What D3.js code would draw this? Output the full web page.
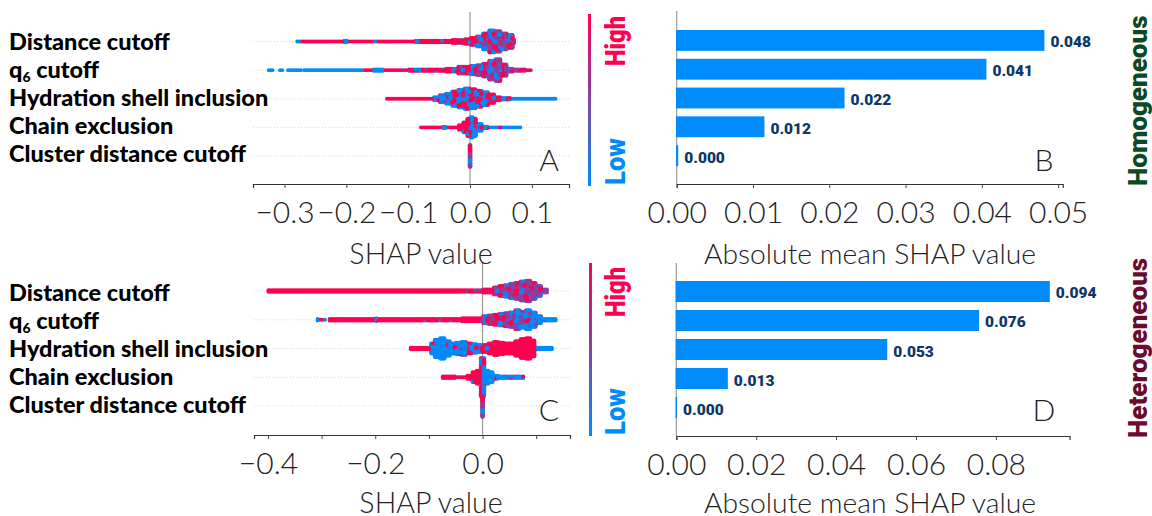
<!DOCTYPE html>
<html>
<head>
<meta charset="utf-8">
<script src="https://cdnjs.cloudflare.com/ajax/libs/d3/7.8.5/d3.min.js"></script>
<style>
body { margin: 0; background: #fff; }
svg { display: block; }
text { font-family: Lato, sans-serif; }
</style>
</head>
<body>
<svg width="1152" height="516"></svg>
<script>
/*--- data ---*/
var features = ["Distance cutoff", "q6 cutoff", "Hydration shell inclusion", "Chain exclusion", "Cluster distance cutoff"];

// mean absolute SHAP
var meanHomogeneous = [0.0482, 0.0406, 0.0220, 0.0115, 0.0002];
var meanHeterogeneous = [0.0935, 0.0758, 0.0528, 0.0129, 0.0002];
var labelsHomogeneous = ["0.048", "0.041", "0.022", "0.012", "0.000"];
var labelsHeterogeneous = ["0.094", "0.076", "0.053", "0.013", "0.000"];

// swarm histograms: [from, to, points, share high, share low]
var homDistance = [[-0.281,-0.275,3,0,1],[-0.275,-0.205,35,1,0],[-0.205,-0.198,4,0,1],[-0.198,-0.158,20,1,0],[-0.158,-0.152,3,0.3,0.7],[-0.152,-0.09,32,1,0],[-0.09,-0.083,4,0,1],[-0.083,-0.05,20,0.95,0.05],[-0.05,-0.04,7,0.85,0.15],[-0.04,-0.03,7,0.8,0.2],[-0.03,-0.02,9,0.85,0.15],[-0.02,-0.01,11,0.85,0.1],[-0.01,0,13,0.8,0.15],[0,0.01,17,0.65,0.2],[0.01,0.02,23,0.45,0.3],[0.02,0.03,35,0.35,0.35],[0.03,0.04,47,0.3,0.35],[0.04,0.05,43,0.3,0.3],[0.05,0.06,33,0.3,0.25],[0.06,0.07,27,0.25,0.15],[0.07,0.073,3,0.6,0]];
var homQ6 = [[-0.327,-0.318,4,0,1],[-0.309,-0.302,3,0,1],[-0.296,-0.272,12,0,1],[-0.27,-0.173,50,0,1],[-0.173,-0.157,8,1,0],[-0.157,-0.14,9,0,1],[-0.14,-0.1,20,0.85,0.1],[-0.1,-0.06,24,0.75,0.2],[-0.06,-0.04,15,0.7,0.25],[-0.04,-0.03,9,0.7,0.25],[-0.03,-0.02,11,0.65,0.25],[-0.02,-0.01,15,0.6,0.25],[-0.01,0,17,0.55,0.25],[0,0.01,19,0.5,0.25],[0.01,0.02,23,0.45,0.25],[0.02,0.03,27,0.35,0.3],[0.03,0.04,39,0.3,0.3],[0.04,0.05,47,0.2,0.25],[0.05,0.06,25,0.2,0.15],[0.06,0.07,11,0.3,0.05],[0.07,0.08,8,0.4,0],[0.08,0.09,7,0.4,0],[0.09,0.1,5,0.4,0]];
var homHydration = [[-0.136,-0.065,36,1,0],[-0.065,-0.06,3,0.4,0.6],[-0.06,-0.05,11,0.3,0.7],[-0.05,-0.04,15,0.35,0.65],[-0.04,-0.03,23,0.3,0.7],[-0.03,-0.02,31,0.35,0.65],[-0.02,-0.01,37,0.4,0.6],[-0.01,0,43,0.45,0.55],[0,0.01,41,0.5,0.5],[0.01,0.02,35,0.55,0.45],[0.02,0.03,27,0.6,0.4],[0.03,0.04,19,0.7,0.3],[0.04,0.05,11,0.85,0.15],[0.05,0.06,7,0.6,0.4],[0.06,0.066,4,0.8,0.2],[0.066,0.14,37,0,1]];
var homChain = [[-0.081,-0.045,18,1,0],[-0.045,-0.038,4,0,1],[-0.038,-0.02,10,1,0],[-0.02,-0.012,8,0.95,0.05],[-0.012,-0.005,14,0.95,0.05],[-0.005,0,24,0.85,0.15],[0,0.005,28,0.3,0.7],[0.005,0.01,24,0.2,0.8],[0.01,0.02,17,0.15,0.85],[0.02,0.03,8,0.1,0.9],[0.03,0.045,8,0,1],[0.045,0.05,3,1,0],[0.05,0.083,17,0,1]];
var homCluster = [[-0.001,0.001,15,0.35,0.25]];

var hetDistance = [[-0.401,-0.25,76,1,0],[-0.25,-0.15,50,1,0],[-0.15,-0.08,37,0.99,0.01],[-0.08,-0.04,24,0.95,0.05],[-0.04,-0.02,12,0.95,0.05],[-0.02,0,12,0.85,0.08],[0,0.01,9,0.75,0.1],[0.01,0.02,11,0.65,0.1],[0.02,0.03,15,0.55,0.12],[0.03,0.04,21,0.45,0.15],[0.04,0.05,25,0.35,0.15],[0.05,0.06,31,0.3,0.2],[0.06,0.07,35,0.25,0.2],[0.07,0.08,39,0.2,0.25],[0.08,0.09,43,0.2,0.25],[0.09,0.1,33,0.2,0.2],[0.1,0.11,23,0.15,0.15],[0.11,0.122,11,0.15,0.1]];
var hetQ6 = [[-0.31,-0.305,2,0,1],[-0.305,-0.298,3,1,0],[-0.298,-0.292,3,0,1],[-0.287,-0.2,44,1,0],[-0.2,-0.196,3,0,1],[-0.196,-0.12,50,0.97,0.03],[-0.12,-0.08,30,0.93,0.07],[-0.08,-0.04,30,0.9,0.08],[-0.04,-0.02,16,0.85,0.1],[-0.02,0,15,0.7,0.1],[0,0.01,15,0.65,0.1],[0.01,0.02,19,0.55,0.15],[0.02,0.03,23,0.45,0.2],[0.03,0.04,25,0.35,0.25],[0.04,0.05,27,0.25,0.35],[0.05,0.06,31,0.2,0.4],[0.06,0.07,39,0.15,0.45],[0.07,0.08,33,0.1,0.5],[0.08,0.09,39,0.1,0.55],[0.09,0.1,31,0.05,0.6],[0.1,0.11,15,0.05,0.75],[0.11,0.12,7,0,0.95],[0.12,0.138,10,0,1]];
var hetHydration = [[-0.136,-0.097,19,1,0],[-0.097,-0.09,15,0.05,0.95],[-0.09,-0.08,37,0,1],[-0.08,-0.07,43,0.02,0.98],[-0.07,-0.06,31,0.05,0.95],[-0.06,-0.05,23,0.1,0.9],[-0.05,-0.04,25,0.1,0.9],[-0.04,-0.03,27,0.2,0.8],[-0.03,-0.02,23,0.35,0.65],[-0.02,-0.01,19,0.4,0.6],[-0.01,0,15,0.6,0.4],[0,0.01,15,0.75,0.25],[0.01,0.02,23,0.95,0.05],[0.02,0.03,27,0.95,0.05],[0.03,0.04,25,0.97,0.03],[0.04,0.05,23,0.98,0.02],[0.05,0.06,21,1,0],[0.06,0.07,31,1,0],[0.07,0.08,39,1,0],[0.08,0.09,43,1,0],[0.09,0.098,23,1,0],[0.098,0.131,17,0,1]];
var hetChain = [[-0.076,-0.05,14,1,0],[-0.05,-0.04,5,0.7,0.3],[-0.04,-0.03,5,0.9,0.1],[-0.03,-0.02,9,0.95,0.05],[-0.02,-0.012,14,0.95,0.05],[-0.012,-0.005,18,0.9,0.1],[-0.005,0,26,0.7,0.3],[0,0.005,26,0.3,0.7],[0.005,0.012,18,0.15,0.85],[0.012,0.02,14,0.1,0.9],[0.02,0.03,9,0.1,0.9],[0.03,0.04,7,0.1,0.9],[0.04,0.055,8,0.4,0.6],[0.055,0.078,12,0.1,0.9]];
var hetCluster = [[-0.001,0.001,15,0.4,0.2]];

var swarmTicksA = [-0.3, -0.2, -0.1, 0, 0.1];
var swarmTicksC = [-0.4, -0.3, -0.2, -0.1, 0, 0.1];
var swarmLabelsC = [-0.4, -0.2, 0];
var barTicksB = [0, 0.01, 0.02, 0.03, 0.04, 0.05];
var barTicksD = [0, 0.02, 0.04, 0.06, 0.08];

/*--- display settings ---*/
var col_low = "#008bfb", col_high = "#ff0051";
var shapColor = d3.interpolateRgb(col_low, col_high);
var svg = d3.select("svg");

function style_axis(g, size) {
    g.selectAll(".domain").attr("stroke", "#333").attr("stroke-width", 1.2);
    g.selectAll(".tick line").attr("stroke", "#444");
    g.selectAll(".tick text")
        .attr("font-family", "Lato").attr("font-weight", 300)
        .attr("font-size", size).attr("fill", "#222");
}

function title(x, y, txt, size) {
    svg.append("text").attr("x", x).attr("y", y).attr("text-anchor", "middle")
        .attr("font-weight", 300).attr("font-size", size).attr("fill", "#222").text(txt);
}

function letter(x, y, txt) {
    svg.append("text").attr("x", x).attr("y", y).attr("text-anchor", "middle")
        .attr("font-weight", 300).attr("font-size", 30).attr("fill", "#222").text(txt);
}

function draw_swarm(p) {
    var x = d3.scaleLinear().domain(p.domain).range([p.left, p.right]);
    var y = d3.scalePoint().domain(features).range(p.rows);
    var g = svg.append("g");

    // row guides
    g.selectAll("line.row").data(features).enter().append("line")
        .attr("x1", p.left).attr("x2", p.right)
        .attr("y1", function(d) { return y(d); }).attr("y2", function(d) { return y(d); })
        .attr("stroke", "#d8d8d8").attr("stroke-width", 1).attr("stroke-dasharray", "1,2");

    // zero line
    g.append("line").attr("x1", x(0)).attr("x2", x(0)).attr("y1", p.top).attr("y2", p.axis)
        .attr("stroke", "#999").attr("stroke-width", 1.2);

    // dots
    var dots = [];
    p.series.forEach(function(hist, s) {
        hist.forEach(function(b, bi) {
            var px = x(b[1]) - x(b[0]);
            var cols = Math.max(1, Math.round(px / 2));
            var perCol = Math.max(1, Math.floor(b[2] / cols + 0.25));
            for (var c = 0; c < cols; c++) {
                for (var k = 0; k < perCol; k++) {
                    // fixed colour dither so the shares read as speckle
                    var f = (c * c * 0.381966 + k * k * 0.618034 + c * k * 0.2857 + bi * 0.31 + s * 0.17) % 1;
                    var t = f < b[3] ? 1 : (f < b[3] + b[4] ? 0 : 0.55);
                    dots.push({
                        v: b[0] + (b[1] - b[0]) * (c + 0.5) / cols,
                        row: features[s],
                        off: (k - (perCol - 1) / 2) * 1.5,
                        t: t,
                        r: perCol < 5 ? 1.9 : 2.4,
                        order: (c * c * 0.7549 + k * k * 0.5698 + c * k * 0.4142) % 1
                    });
                }
            }
        });
    });
    dots.sort(function(a, b) { return a.order - b.order; });
    g.selectAll("circle").data(dots).enter().append("circle")
        .attr("cx", function(d) { return x(d.v); })
        .attr("cy", function(d) { return y(d.row) + d.off; })
        .attr("r", function(d) { return d.r; })
        .attr("fill", function(d) { return shapColor(d.t); });

    // axis
    var axis = d3.axisBottom(x).tickValues(p.ticks).tickSize(4).tickPadding(14)
        .tickFormat(function(d) {
            if (p.labels && p.labels.every(function(l) { return Math.abs(l - d) > 1e-9; })) return "";
            return d3.format(".1f")(d);
        });
    var ag = svg.append("g").attr("transform", "translate(0," + p.axis + ")").call(axis);
    style_axis(ag, 30);
}

function draw_bars(p) {
    var x = d3.scaleLinear().domain([0, p.max]).range([p.left, p.right]);
    var y = d3.scaleBand().domain(features).range(p.band).paddingInner(0.276).paddingOuter(0);
    var g = svg.append("g");

    g.append("line").attr("x1", p.left).attr("x2", p.left).attr("y1", p.top).attr("y2", p.axis)
        .attr("stroke", "#999").attr("stroke-width", 1.2);

    g.selectAll("rect").data(p.values).enter().append("rect")
        .attr("x", p.left - 0.7)
        .attr("y", function(d, i) { return y(features[i]); })
        .attr("width", function(d) { return x(d) - p.left + 0.7; })
        .attr("height", y.bandwidth())
        .attr("fill", col_low);

    g.selectAll("text").data(p.values).enter().append("text")
        .attr("x", function(d) { return x(d) + 6; })
        .attr("y", function(d, i) { return y(features[i]) + y.bandwidth() / 2 + 7; })
        .style("font-family", "Roboto")
        .attr("font-weight", 900).attr("font-size", 15.5).attr("fill", "#0c3768")
        .text(function(d, i) { return p.labels[i]; });

    var axis = d3.axisBottom(x).tickValues(p.ticks).tickSize(4).tickPadding(14).tickFormat(d3.format(".2f"));
    var ag = svg.append("g").attr("transform", "translate(0," + p.axis + ")").call(axis);
    style_axis(ag, 30);
}

function draw_feature_names(ys) {
    var g = svg.append("g");
    features.forEach(function(f, i) {
        var t = g.append("text").attr("x", 9).attr("y", ys[i])
            .attr("font-weight", 900).attr("font-size", 23.5).attr("fill", "#000");
        if (f === "q6 cutoff") {
            t.append("tspan").text("q");
            t.append("tspan").text("6").attr("font-size", 14).attr("dy", 4);
            t.append("tspan").text(" cutoff").attr("dy", -4);
        } else {
            t.text(f);
        }
    });
}

function draw_colorbar(id, x, y0, y1, highY, lowY) {
    var grad = svg.append("defs").append("linearGradient").attr("id", id)
        .attr("x1", 0).attr("x2", 0).attr("y1", 1).attr("y2", 0);
    d3.range(0, 1.01, 0.25).forEach(function(t) {
        grad.append("stop").attr("offset", t).attr("stop-color", shapColor(t));
    });
    svg.append("rect").attr("x", x).attr("y", y0).attr("width", 3).attr("height", y1 - y0)
        .attr("fill", "url(#" + id + ")");
    function side(txt, y, col, len) {
        svg.append("text").attr("transform", "translate(625," + y + ") rotate(-90)")
            .style("font-family", "Roboto").attr("font-weight", 900).attr("font-size", 27)
            .attr("textLength", len).attr("lengthAdjust", "spacingAndGlyphs")
            .attr("fill", col).text(txt);
    }
    side("High", highY, col_high, 50);
    side("Low", lowY, col_low, 47);
}

function group_label(y, txt, col) {
    svg.append("text").attr("transform", "translate(1147," + y + ") rotate(-90)")
        .style("font-family", "Roboto").attr("font-weight", 900).attr("font-size", 26)
        .attr("fill", col).text(txt);
}

/*--- run ---*/
draw_swarm({domain: [-0.351, 0.16], left: 253, right: 569, rows: [41.5, 156], top: 12, axis: 184,
    series: [homDistance, homQ6, homHydration, homChain, homCluster], ticks: swarmTicksA});
draw_swarm({domain: [-0.426, 0.163], left: 254, right: 570, rows: [291, 406], top: 263, axis: 435,
    series: [hetDistance, hetQ6, hetHydration, hetChain, hetCluster], ticks: swarmTicksC, labels: swarmLabelsC});

draw_bars({max: 0.0506, left: 676.7, right: 1062.7, band: [30, 166], top: 11, axis: 184,
    values: meanHomogeneous, labels: labelsHomogeneous, ticks: barTicksB});
draw_bars({max: 0.09845, left: 676.3, right: 1069.6, band: [281, 418], top: 263, axis: 436,
    values: meanHeterogeneous, labels: labelsHeterogeneous, ticks: barTicksD});

draw_feature_names([50, 78, 106, 134, 162]);
draw_feature_names([301, 329, 357, 385, 413]);

draw_colorbar("cb1", 588, 14, 186, 66, 185);
draw_colorbar("cb2", 589, 263, 436, 317, 435);

title(421, 264, "SHAP value", 28.6);
title(431, 513, "SHAP value", 28.6);
title(870, 264, "Absolute mean SHAP value", 28.3);
title(870, 513, "Absolute mean SHAP value", 28.3);

letter(549, 171, "A");
letter(1044, 171, "B");
letter(549, 421, "C");
letter(1044, 421, "D");

group_label(186, "Homogeneous", "#0b4a24");
group_label(438, "Heterogeneous", "#6a0a2e");
</script>
</body>
</html>
